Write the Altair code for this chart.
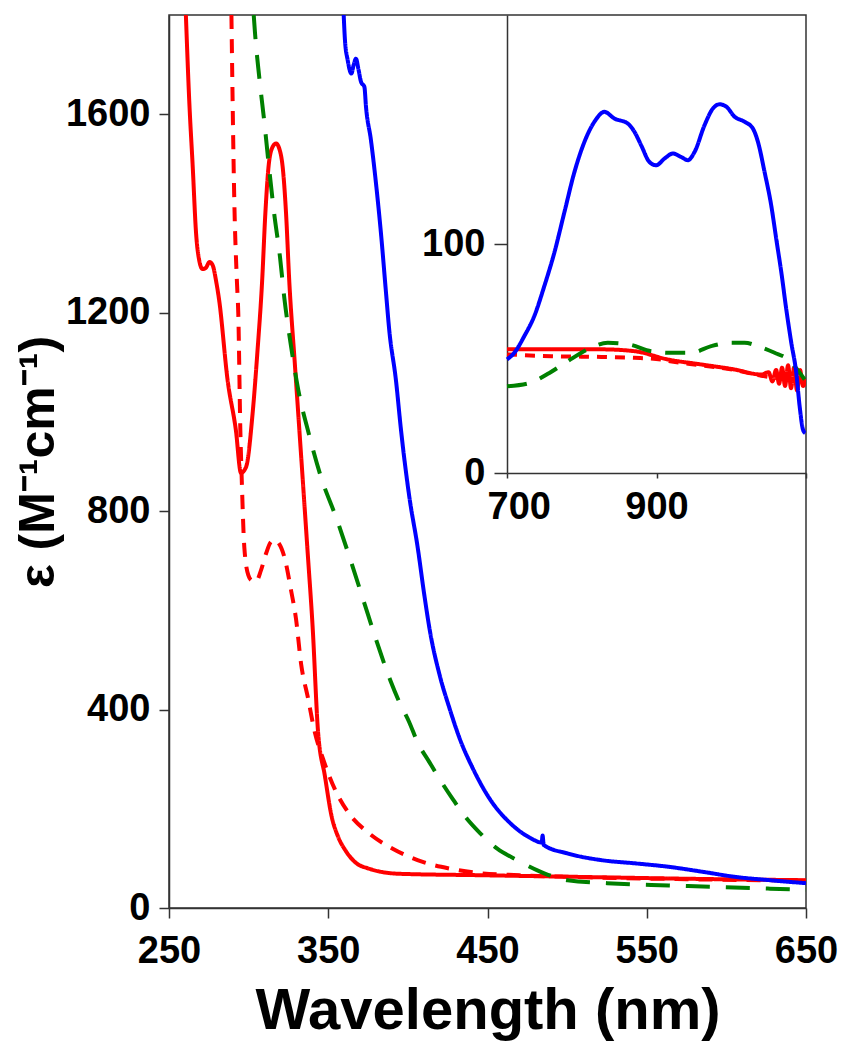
import altair as alt
import pandas as pd

# ---------------- main panel data (wavelength nm, epsilon M^-1 cm^-1) ----------------
red_solid_wl = [260.6, 262.7, 264.9, 267.0, 269.0, 271.0, 273.0, 275.5, 277.5, 279.5, 281.5,
                286.8, 292.0, 295.2, 298.4, 302.5, 305.5, 308.5, 310.5, 312.5, 314.5, 317.2,
                319.5, 321.5, 323.5, 325.5, 329.0, 333.0, 337.0, 340.2, 343.6, 347.9,
                352.1, 356.0, 360.6, 367.0, 375.4, 394.4, 447.4, 510.9, 574.5, 650.0]
red_solid_eps = [1800, 1628, 1494, 1360, 1305, 1288, 1290, 1302, 1295, 1265, 1225,
                 1064, 963, 877, 889, 997, 1120, 1265, 1400, 1494, 1530, 1541,
                 1528, 1490, 1400, 1265, 1098, 910, 720, 566, 355, 266,
                 185, 145, 117, 92, 79.5, 69, 66, 62.5, 59, 56]

red_dash_wl = [289.2, 291.0, 292.7, 293.5, 294.8, 295.7, 297.3, 299.8, 302.0, 304.6, 307.8,
               311.0, 314.0, 316.5, 319.0, 322.4, 326.6, 329.7, 333.0, 337.3, 341.5, 346.8,
               354.2, 362.7, 375.4, 390.2, 409.3, 426.2, 443.2, 470.0, 510.0, 575.0, 650.0]
red_dash_eps = [1800, 1427, 1259, 1199, 963, 862, 727, 671, 660, 658, 681,
                715, 738, 742, 735, 708, 641, 584, 491, 423, 355, 300,
                239, 192, 151, 120, 93, 79.5, 71, 66, 62, 58, 55]

green_wl = [303.2, 304.0, 306.7, 309.9, 312.8, 316.0, 319.7, 322.4, 326.6, 331.2, 337.7,
            345.4, 355.3, 364.3, 373.1, 379.6, 383.9, 389.2, 394.5, 400.8, 406.1, 413.5,
            419.9, 428.3, 435.8, 445.3, 455.9, 468.6, 481.3, 500.3, 532.1, 563.9, 595.6,
            627.4, 650.0]
green_eps = [1800, 1764, 1674, 1583, 1493, 1401, 1312, 1230, 1133, 1044, 957,
             869, 784, 698, 610, 545, 504, 457, 416, 375, 334, 294,
             260, 219, 185, 151, 120, 96.5, 76, 56, 49, 45.5, 42,
             39, 37]

blue_wl = [359.7, 360.5, 362.2, 364.5, 366.0, 367.4, 369.0, 370.6, 372.7, 373.7, 376.8,
           380.0, 383.1, 386.3, 388.3, 392.5, 395.7, 400.9, 406.1, 410.5, 413.8, 419.9,
           426.2, 432.6, 441.0, 451.6, 464.3, 477.0, 484.0, 484.6, 485.3, 500.3, 521.5,
           542.7, 563.9, 585.1, 606.2, 627.4, 650.0]
blue_eps = [1800, 1749, 1709, 1682, 1700, 1712, 1690, 1665, 1655, 1615, 1548,
            1460, 1360, 1239, 1165, 1064, 963, 829, 728, 627, 559, 470,
            402, 341, 280, 219, 171, 141, 132, 146, 127, 110, 96.5,
            90, 83, 73, 62.5, 56, 50]

# ---------------- inset data ----------------
in_blue_wl = [700, 709.8, 723.2, 736.6, 750, 763.4, 776.8, 790.2, 803.6, 817, 830.3, 843.7,
              861.6, 870.5, 879.5, 890.6, 899.5, 910.7, 921.9, 933, 942, 950.9, 964.3,
              975.5, 984.4, 993.3, 1004.4, 1017.8, 1029, 1035.7, 1044.6, 1053.5, 1060.2,
              1067, 1073.6, 1080.3, 1087, 1091.5, 1096, 1099]
in_blue_eps = [49.6, 52.5, 59.8, 68.6, 81.7, 96.3, 113.9, 131.4, 144.6, 153.4, 157.7, 154.8,
               152.6, 149, 143.1, 135.8, 134.4, 137.3, 139.5, 138, 136.6, 140.2, 151.9,
               159.2, 161, 160, 155.6, 153.4, 150.4, 144.6, 131.4, 116.8, 102.2,
               87.6, 71.5, 56.9, 43.7, 29.1, 18.9, 17.4]

in_red_wl = [700, 760, 826, 870.5, 915, 959.8, 1004.4, 1040, 1050, 1055, 1060, 1064, 1068,
             1072, 1076, 1080, 1084, 1088, 1092, 1096, 1100]
in_red_eps = [54, 54, 54, 53.2, 49.6, 47.4, 45.2, 43, 44, 40, 45, 39, 46,
              38, 47, 37, 46, 36, 45, 38, 41]

in_red_dash_wl = [700, 759, 826, 870.5, 906, 915, 959.8, 1004.4, 1040, 1070, 1100]
in_red_dash_eps = [51.8, 51, 50.7, 50.3, 49.6, 49, 47, 45, 42.5, 41, 40]

in_green_wl = [700, 730, 756.7, 781.2, 808, 834.8, 863.8, 892.8, 919.6, 946.4, 973.2, 1000,
               1017.8, 1035.7, 1058, 1075.9, 1084.8, 1098.2]
in_green_eps = [37.9, 39.3, 43.7, 48.8, 54, 56.9, 56.1, 53.2, 52.5, 52.5, 55.4, 56.9,
                56.9, 55.4, 52.5, 49.6, 46.6, 40.8]

RED = "#ff0000"
BLUE = "#0000ff"
GREEN = "#008000"
FONT = "Liberation Sans"

W, H = 637, 893
LW = 4


def frame(wl, eps):
    return pd.DataFrame({"wl": wl, "eps": eps, "i": list(range(len(wl)))})


main_x = alt.X("wl:Q", scale=alt.Scale(domain=[250, 650], nice=False, zero=False),
               axis=alt.Axis(values=[250, 350, 450, 550, 650], format="d",
                             title="Wavelength (nm)", labelFlush=False,
                             titleFontSize=58, titlePadding=12, labelPadding=14,
                             tickSize=10, orient="bottom"))
main_y = alt.Y("eps:Q", scale=alt.Scale(domain=[0, 1800], nice=False),
               axis=alt.Axis(values=[0, 400, 800, 1200, 1600], format="d",
                             title="ε (M⁻¹cm⁻¹)",
                             titleFontSize=50, titlePadding=2, labelPadding=9,
                             tickSize=10, orient="left"))


def main_line(wl, eps, color, dash):
    return alt.Chart(frame(wl, eps)).mark_line(
        color=color, strokeWidth=LW, strokeDash=dash, clip=True, interpolate="monotone"
    ).encode(x=main_x, y=main_y, order="i:Q")


main = alt.layer(
    main_line(red_solid_wl, red_solid_eps, RED, [1, 0]),
    main_line(red_dash_wl, red_dash_eps, RED, [14, 10]),
    main_line(green_wl, green_eps, GREEN, [24, 16]),
    main_line(blue_wl, blue_eps, BLUE, [1, 0]),
)

in_x = alt.X("wl:Q", scale=alt.Scale(domain=[700, 1100], nice=False, zero=False, range=[338, 637]),
             axis=alt.Axis(values=[700, 900, 1100], format="d", title=None, orient="bottom",
                           offset=-435, tickSize=5, labelPadding=10,
                           labelFlush=True, labelFlushOffset=20,
                           labelExpr="datum.value == 1100 ? '' : datum.label"))
in_y = alt.Y("eps:Q", scale=alt.Scale(domain=[0, 200], nice=False, range=[458, 0]),
             axis=alt.Axis(values=[0, 100], format="d", title=None, orient="left",
                           offset=-338, tickSize=13, labelPadding=9))


def inset_line(wl, eps, color, dash):
    return alt.Chart(frame(wl, eps)).mark_line(
        color=color, strokeWidth=LW, strokeDash=dash, clip=True, interpolate="monotone"
    ).encode(x=in_x, y=in_y, order="i:Q")


inset = alt.layer(
    inset_line(in_red_wl, in_red_eps, RED, [1, 0]),
    inset_line(in_red_dash_wl, in_red_dash_eps, RED, [10, 8]),
    inset_line(in_green_wl, in_green_eps, GREEN, [20, 14]),
    inset_line(in_blue_wl, in_blue_eps, BLUE, [1, 0]),
)

chart = alt.layer(main, inset).resolve_scale(
    x="independent", y="independent"
).resolve_axis(x="independent", y="independent").properties(
    width=W, height=H, padding={"left": 5, "top": 7, "right": 5, "bottom": 5}
).configure_view(
    stroke="#333333", strokeWidth=1.5
).configure_axis(
    labelFont=FONT, labelFontWeight="bold", labelFontSize=38, labelColor="black",
    titleFont=FONT, titleFontWeight="bold", titleColor="black",
    grid=False, domainColor="#333333", domainWidth=1.5, tickColor="#333333", tickWidth=1.5
)

chart.save("out.html", embed_options={"renderer": "svg", "actions": False})
